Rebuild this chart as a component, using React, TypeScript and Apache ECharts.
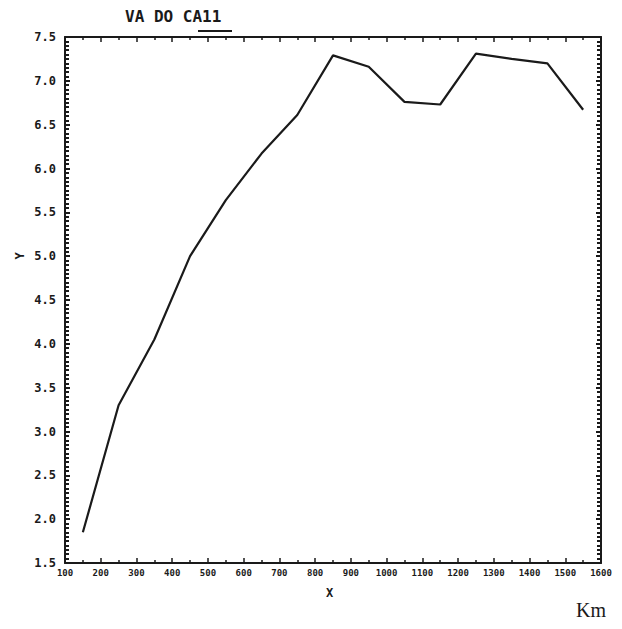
import React, { useEffect, useRef } from "react";
import * as echarts from "echarts";

const xValues = [150, 250, 350, 450, 550, 650, 750, 850, 950, 1050, 1150, 1250, 1350, 1450, 1550];
const yValues = [1.85, 3.3, 4.05, 5.0, 5.64, 6.17, 6.61, 7.29, 7.16, 6.76, 6.73, 7.31, 7.25, 7.2, 6.67];
const xTicks = { min: 100, max: 1600, interval: 100 };
const yTicks = { min: 1.5, max: 7.5, interval: 0.5 };
const titleText = "VA DO CA11";
const xName = "X";
const yName = "Y";
const unitText = "Km";

const INK = "#1a1a1a";
const MONO = "'DejaVu Sans Mono', 'Liberation Mono', monospace";

export default function App() {
  const ref = useRef<HTMLDivElement>(null);
  useEffect(() => {
    if (!ref.current) return;
    const chart = echarts.init(ref.current, null, { renderer: "svg" });
    const data = xValues.map((x, i) => [x, yValues[i]]);
    const axisLine = { show: true, lineStyle: { color: INK, width: 2 } };
    const baseX = {
      type: "value" as const,
      min: xTicks.min,
      max: xTicks.max,
      interval: xTicks.interval,
      axisLine,
      splitLine: { show: false },
      axisTick: { show: true, inside: true, length: 5, lineStyle: { color: INK, width: 1.5 } },
      minorTick: { show: true, splitNumber: 2, length: 3, lineStyle: { color: INK, width: 1.5 } },
    };
    const baseY = {
      type: "value" as const,
      min: yTicks.min,
      max: yTicks.max,
      interval: yTicks.interval,
      axisLine,
      splitLine: { show: false },
      axisTick: { show: true, inside: true, length: 5, lineStyle: { color: INK, width: 2 } },
      minorTick: { show: true, splitNumber: 10, length: 4, lineStyle: { color: INK, width: 2 } },
    };
    chart.setOption({
      animation: false,
      backgroundColor: "#ffffff",
      grid: { left: 65, right: 21, top: 37, bottom: 66 },
      xAxis: [
        {
          ...baseX,
          position: "bottom",
          axisLabel: {
            show: true,
            margin: 5,
            color: INK,
            fontFamily: MONO,
            fontWeight: "bold",
            fontSize: 9,
            formatter: (v: number) => String(v),
          },
        },
        { ...baseX, position: "top", axisLabel: { show: false } },
      ],
      yAxis: [
        {
          ...baseY,
          position: "left",
          axisLabel: {
            show: true,
            margin: 9,
            color: INK,
            fontFamily: MONO,
            fontWeight: "bold",
            fontSize: 12,
            formatter: (v: number) => v.toFixed(1),
          },
        },
        { ...baseY, position: "right", axisLabel: { show: false } },
      ],
      series: [
        {
          type: "line",
          data,
          showSymbol: false,
          symbol: "none",
          lineStyle: { color: INK, width: 2.2 },
        },
      ],
      graphic: [
        {
          type: "text",
          left: 125,
          top: 8,
          style: { text: titleText, font: `bold 16px ${MONO}`, fill: INK },
        },
        {
          type: "line",
          shape: { x1: 198, y1: 31, x2: 232, y2: 31 },
          style: { stroke: INK, lineWidth: 2 },
        },
        {
          type: "text",
          left: 326,
          top: 587,
          style: { text: xName, font: `bold 12px ${MONO}`, fill: INK },
        },
        {
          type: "text",
          x: 20,
          y: 256,
          rotation: Math.PI / 2,
          style: {
            text: yName,
            font: `bold 12px ${MONO}`,
            fill: INK,
            align: "center",
            verticalAlign: "middle",
          },
        },
        {
          type: "text",
          left: 576,
          top: 600,
          style: { text: unitText, font: `20px 'Liberation Serif', 'DejaVu Serif', serif`, fill: INK },
        },
      ],
    });
    return () => chart.dispose();
  }, []);
  return (
    <div
      ref={ref}
      style={{ position: "fixed", left: 0, top: 0, width: 622, height: 629, background: "#fff" }}
    />
  );
}
